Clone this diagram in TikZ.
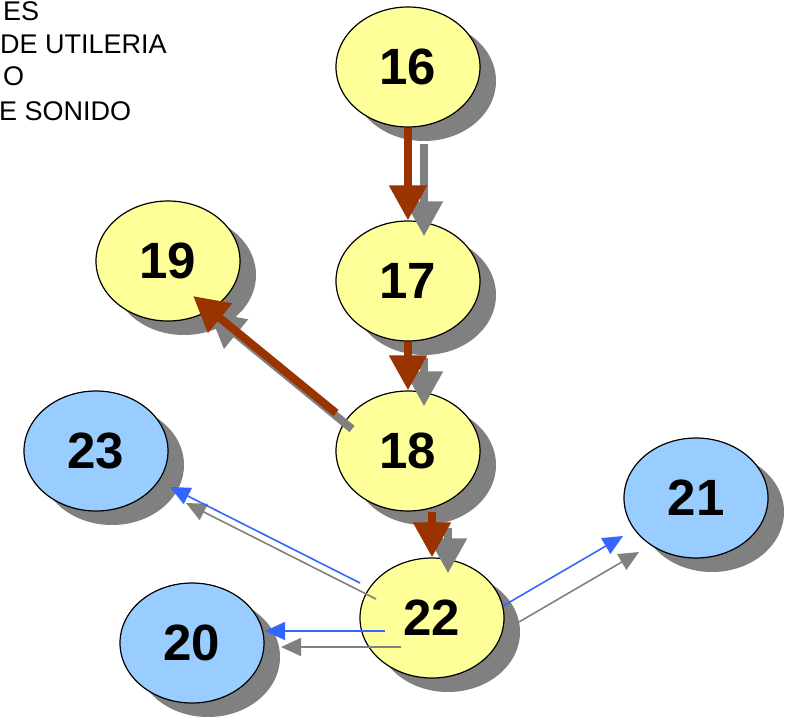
\documentclass[tikz,border=0pt]{standalone}
\usepackage{fontspec}
\setmainfont{Liberation Sans}
\usetikzlibrary{shapes.geometric,shadows,arrows.meta}

\definecolor{stageyellow}{HTML}{FFFF99}
\definecolor{stageblue}{HTML}{99CCFF}
\definecolor{pathbrown}{HTML}{993300}
\definecolor{linkblue}{HTML}{3366FF}
\definecolor{shadegray}{HTML}{808080}

\begin{document}
\begin{tikzpicture}[
    x=1pt, y=-1pt,
    stage/.style={ellipse, draw=black, line width=1.2pt, minimum width=144pt, minimum height=120pt, inner sep=0pt,
        font=\fontsize{51}{51}\selectfont\bfseries,
        drop shadow={shadow xshift=16pt, shadow yshift=-14pt, fill=shadegray, opacity=1}},
    crit/.style={stage, fill=stageyellow},
    side/.style={stage, fill=stageblue},
    note/.style={font=\fontsize{27}{33}\selectfont, inner sep=0pt, anchor=base west},
    patharr/.style={-{Triangle[width=36pt,length=35pt]}, line width=8pt, draw=pathbrown, fill=pathbrown},
    linkarr/.style={-{Triangle[width=18pt,length=20pt]}, line width=1.6pt, draw=linkblue, fill=linkblue},
    shade/.style={draw=shadegray, fill=shadegray, transform canvas={xshift=16pt, yshift=-16pt}},
]
    \useasboundingbox (0,0) rectangle (790,720);
    \clip (0,0) rectangle (790,720);

    % legend text, cut at the left edge
    \node[note] (nota1) at (3,20)   {ES};
    \node[note] (nota2) at (0,53)   {DE UTILERIA};
    \node[note] (nota3) at (3,85)   {O};
    \node[note] (nota4) at (-1,120) {E SONIDO};

    % activities
    \node[crit] (n16) at (408,67)  {16};
    \node[crit] (n17) at (408,281) {17};
    \node[crit] (n19) at (168,261) {19};
    \node[crit] (n18) at (408,451) {18};
    \node[side] (n23) at (96,451)  {23};
    \node[side] (n21) at (696,498) {21};
    \node[crit] (n22) at (432,618) {22};
    \node[side] (n20) at (192,643) {20};

    % critical path
    \draw[patharr, shade] (n16.south) -- (n17.north);
    \draw[patharr] (n16.south) -- (n17.north);
    \draw[patharr, shade] (n17.south) -- (n18.north);
    \draw[patharr] (n17.south) -- (n18.north);
    \draw[patharr, shade] ([shift={(-72,-38)}]n18.center) -- ([shift={(25,35)}]n19.center);
    \draw[patharr] ([shift={(-72,-38)}]n18.center) -- ([shift={(25,35)}]n19.center);
    \draw[patharr, shade] (n18.south -| n22.north) -- (n22.north);
    \draw[patharr] (n18.south -| n22.north) -- (n22.north);

    % other links out of 22
    \draw[linkarr, shade] ([shift={(-72,-35)}]n22.center) -- ([shift={(74,36)}]n23.center);
    \draw[linkarr] ([shift={(-72,-35)}]n22.center) -- ([shift={(74,36)}]n23.center);
    \draw[linkarr, shade] ([shift={(-47,13)}]n22.center) -- ([shift={(73,-12)}]n20.center);
    \draw[linkarr] ([shift={(-47,13)}]n22.center) -- ([shift={(73,-12)}]n20.center);
    \draw[linkarr, shade] ([shift={(71,-12)}]n22.center) -- ([shift={(-73,38)}]n21.center);
    \draw[linkarr] ([shift={(71,-12)}]n22.center) -- ([shift={(-73,38)}]n21.center);
\end{tikzpicture}
\end{document}
